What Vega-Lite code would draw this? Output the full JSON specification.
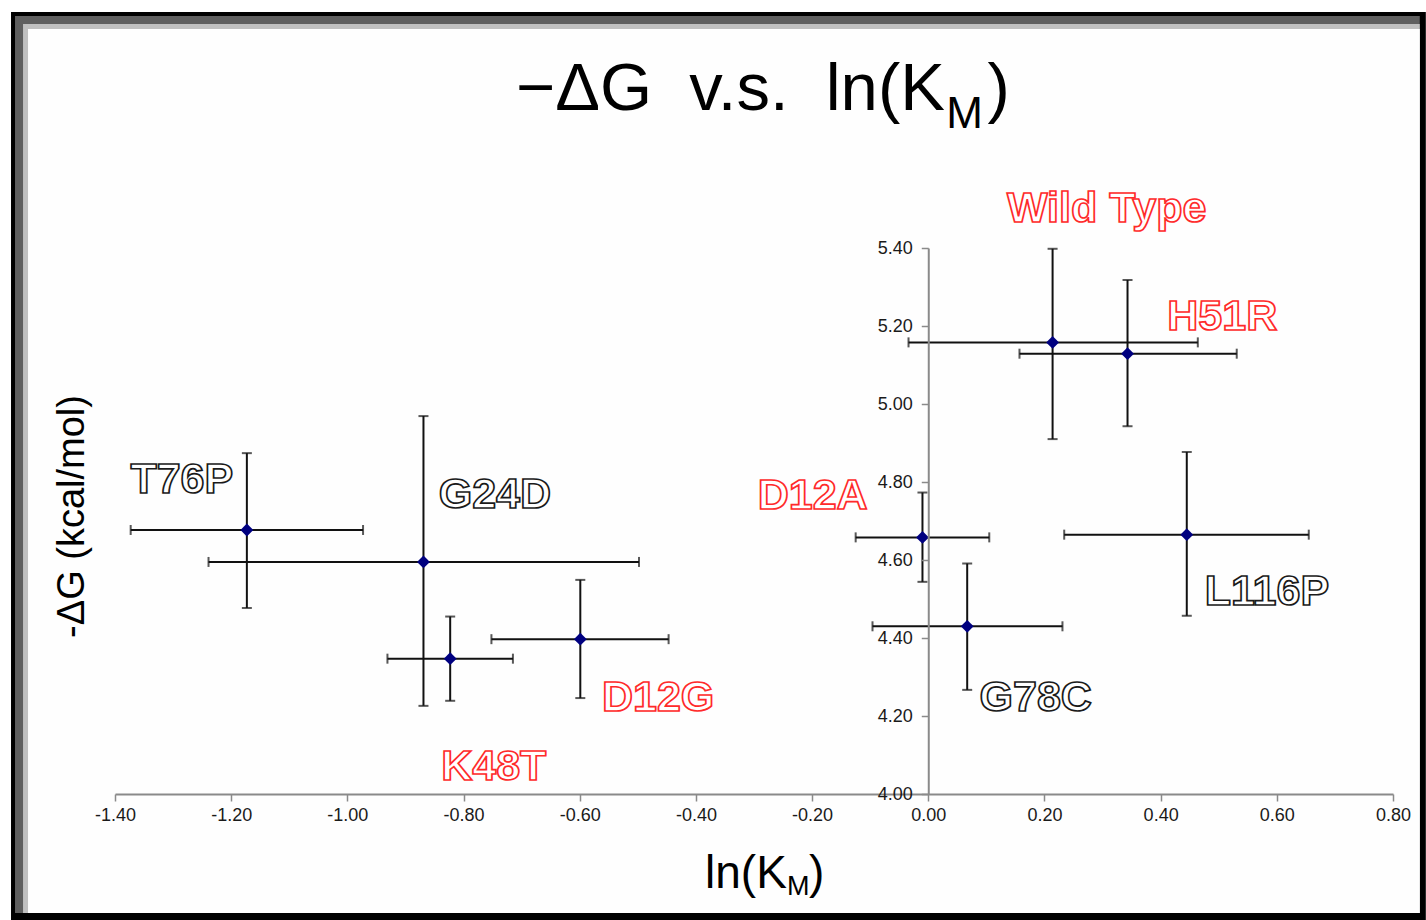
{
  "$schema": "https://vega.github.io/schema/vega-lite/v6.json",
  "width": 1278,
  "height": 546,
  "autosize": {"type": "none"},
  "padding": {"left": 115, "top": 248, "right": 33, "bottom": 126},
  "background": "white",
  "datasets": {
    "mutants": [
      {"mutant": "Wild Type", "km": 0.214, "km_lo": -0.034, "km_hi": 0.464, "dg": 5.158, "dg_lo": 4.91, "dg_hi": 5.398, "lab_x": 0.307, "lab_y": 5.467, "red": "yes"},
      {"mutant": "H51R", "km": 0.343, "km_lo": 0.157, "km_hi": 0.531, "dg": 5.129, "dg_lo": 4.943, "dg_hi": 5.318, "lab_x": 0.506, "lab_y": 5.189, "red": "yes"},
      {"mutant": "D12A", "km": -0.01, "km_lo": -0.125, "km_hi": 0.105, "dg": 4.658, "dg_lo": 4.544, "dg_hi": 4.773, "lab_x": -0.199, "lab_y": 4.731, "red": "yes"},
      {"mutant": "G78C", "km": 0.067, "km_lo": -0.096, "km_hi": 0.231, "dg": 4.43, "dg_lo": 4.267, "dg_hi": 4.591, "lab_x": 0.185, "lab_y": 4.214, "red": "no"},
      {"mutant": "L116P", "km": 0.445, "km_lo": 0.234, "km_hi": 0.655, "dg": 4.665, "dg_lo": 4.457, "dg_hi": 4.877, "lab_x": 0.583, "lab_y": 4.485, "red": "no"},
      {"mutant": "T76P", "km": -1.173, "km_lo": -1.373, "km_hi": -0.973, "dg": 4.677, "dg_lo": 4.477, "dg_hi": 4.874, "lab_x": -1.285, "lab_y": 4.772, "red": "no"},
      {"mutant": "G24D", "km": -0.869, "km_lo": -1.239, "km_hi": -0.498, "dg": 4.595, "dg_lo": 4.226, "dg_hi": 4.969, "lab_x": -0.746, "lab_y": 4.733, "red": "no"},
      {"mutant": "K48T", "km": -0.823, "km_lo": -0.931, "km_hi": -0.715, "dg": 4.347, "dg_lo": 4.239, "dg_hi": 4.455, "lab_x": -0.748, "lab_y": 4.037, "red": "yes"},
      {"mutant": "D12G", "km": -0.599, "km_lo": -0.752, "km_hi": -0.447, "dg": 4.397, "dg_lo": 4.246, "dg_hi": 4.549, "lab_x": -0.465, "lab_y": 4.212, "red": "yes"}
    ]
  },
  "layer": [
    {
      "data": {"values": [{}]},
      "mark": {"type": "rect", "fill": "#000000"},
      "encoding": {
        "x": {"datum": -1.579, "type": "quantitative", "scale": {"domain": [-1.4, 0.8], "nice": false, "zero": false}},
        "x2": {"datum": 0.8565},
        "y": {"datum": 6.0051, "type": "quantitative", "scale": {"domain": [4.0, 5.4], "nice": false, "zero": false}},
        "y2": {"datum": 3.6769}
      }
    },
    {
      "data": {"values": [{}]},
      "mark": {"type": "rect", "fill": "#5f5f5f"},
      "encoding": {
        "x": {"datum": -1.5721, "type": "quantitative"},
        "x2": {"datum": 0.8461},
        "y": {"datum": 5.9949, "type": "quantitative"},
        "y2": {"datum": 3.6949}
      }
    },
    {
      "data": {"values": [{}]},
      "mark": {"type": "rect", "fill": "#c0c0c0"},
      "encoding": {
        "x": {"datum": -1.5583, "type": "quantitative"},
        "x2": {"datum": 0.8461},
        "y": {"datum": 5.9744, "type": "quantitative"},
        "y2": {"datum": 3.6949}
      }
    },
    {
      "data": {"values": [{}]},
      "mark": {"type": "rect", "fill": "#fefefe"},
      "encoding": {
        "x": {"datum": -1.5497, "type": "quantitative"},
        "x2": {"datum": 0.8461},
        "y": {"datum": 5.9615, "type": "quantitative"},
        "y2": {"datum": 3.6949}
      }
    },
    {
      "data": {"name": "mutants"},
      "mark": {"type": "errorbar", "thickness": 2, "color": "#111111", "ticks": {"size": 10, "thickness": 2, "color": "#111111"}},
      "encoding": {
        "x": {"field": "km_lo", "type": "quantitative", "title": null},
        "x2": {"field": "km_hi"},
        "y": {"field": "dg", "type": "quantitative", "title": "-\u0394G (kcal/mol)"}
      }
    },
    {
      "data": {"name": "mutants"},
      "mark": {"type": "errorbar", "thickness": 2, "color": "#111111", "ticks": {"size": 10, "thickness": 2, "color": "#111111"}},
      "encoding": {
        "y": {"field": "dg_lo", "type": "quantitative", "title": "-\u0394G (kcal/mol)"},
        "y2": {"field": "dg_hi"},
        "x": {"field": "km", "type": "quantitative", "title": null}
      }
    },
    {
      "data": {"name": "mutants"},
      "mark": {"type": "point", "shape": "diamond", "filled": true, "size": 165, "color": "#000080", "opacity": 1},
      "encoding": {
        "x": {
          "field": "km", "type": "quantitative",
          "scale": {"domain": [-1.4, 0.8], "nice": false, "zero": false},
          "axis": {
            "title": null,
            "values": [-1.4, -1.2, -1.0, -0.8, -0.6, -0.4, -0.2, 0.0, 0.2, 0.4, 0.6, 0.8],
            "labelExpr": "replace(format(datum.value, '.2f'), '\u2212', '-')",
            "grid": false,
            "zindex": 1,
            "domainColor": "#8a8a8a", "domainWidth": 2,
            "tickColor": "#8a8a8a", "tickWidth": 1.5, "tickSize": 7,
            "labelFont": "Liberation Sans", "labelFontSize": 18, "labelColor": "#1a1a1a",
            "labelPadding": 5, "labelFlush": false, "labelOverlap": false
          }
        },
        "y": {
          "field": "dg", "type": "quantitative",
          "scale": {"domain": [4.0, 5.4], "nice": false, "zero": false},
          "axis": {
            "title": "-\u0394G (kcal/mol)",
            "values": [4.0, 4.2, 4.4, 4.6, 4.8, 5.0, 5.2, 5.4],
            "labelExpr": "replace(format(datum.value, '.2f'), '\u2212', '-')",
            "grid": false,
            "zindex": 1,
            "offset": -813.27,
            "domainColor": "#8a8a8a", "domainWidth": 2,
            "tickColor": "#8a8a8a", "tickWidth": 1.5, "tickSize": 7,
            "labelFont": "Liberation Sans", "labelFontSize": 18, "labelColor": "#1a1a1a",
            "labelPadding": 9, "labelFlush": false, "labelOverlap": false,
            "titleFont": "Liberation Sans",
            "titleFontSize": 38, "titleFontWeight": "normal", "titleColor": "#000000",
            "titleAngle": 270, "titleAlign": "center", "titleBaseline": "alphabetic",
            "titleX": -845, "titleY": 268
          }
        }
      }
    },
    {
      "data": {"name": "mutants"},
      "mark": {"type": "text", "fill": "#ffffff", "strokeWidth": 1.7, "font": "Liberation Sans", "fontWeight": "bold", "fontSize": 43, "align": "center", "baseline": "alphabetic"},
      "encoding": {
        "x": {"field": "lab_x", "type": "quantitative", "title": null},
        "y": {"field": "lab_y", "type": "quantitative", "title": "-\u0394G (kcal/mol)"},
        "text": {"field": "mutant"},
        "stroke": {"field": "red", "type": "nominal", "scale": {"domain": ["yes", "no"], "range": ["#ff2a2a", "#1a1a1a"]}, "legend": null}
      }
    },
    {
      "data": {"values": [{}]},
      "mark": {"type": "text", "text": "\u2212\u0394G\u00a0\u00a0v.s.\u00a0\u00a0ln(K", "font": "Liberation Sans", "fontSize": 67, "align": "right", "baseline": "alphabetic", "color": "#000000"},
      "encoding": {
        "x": {"datum": 0.0286, "type": "quantitative"},
        "y": {"datum": 5.7538, "type": "quantitative"}
      }
    },
    {
      "data": {"values": [{}]},
      "mark": {"type": "text", "text": "M", "font": "Liberation Sans", "fontSize": 44, "align": "left", "baseline": "alphabetic", "color": "#000000"},
      "encoding": {
        "x": {"datum": 0.031, "type": "quantitative"},
        "y": {"datum": 5.7077, "type": "quantitative"}
      }
    },
    {
      "data": {"values": [{}]},
      "mark": {"type": "text", "text": ")", "font": "Liberation Sans", "fontSize": 67, "align": "left", "baseline": "alphabetic", "color": "#000000"},
      "encoding": {
        "x": {"datum": 0.102, "type": "quantitative"},
        "y": {"datum": 5.7538, "type": "quantitative"}
      }
    },
    {
      "data": {"values": [{}]},
      "mark": {"type": "text", "text": "ln(K", "font": "Liberation Sans", "fontSize": 46, "align": "right", "baseline": "alphabetic", "color": "#000000"},
      "encoding": {
        "x": {"datum": -0.2434, "type": "quantitative"},
        "y": {"datum": 3.759, "type": "quantitative"}
      }
    },
    {
      "data": {"values": [{}]},
      "mark": {"type": "text", "text": "M", "font": "Liberation Sans", "fontSize": 27, "align": "left", "baseline": "alphabetic", "color": "#000000"},
      "encoding": {
        "x": {"datum": -0.2434, "type": "quantitative"},
        "y": {"datum": 3.741, "type": "quantitative"}
      }
    },
    {
      "data": {"values": [{}]},
      "mark": {"type": "text", "text": ")", "font": "Liberation Sans", "fontSize": 46, "align": "left", "baseline": "alphabetic", "color": "#000000"},
      "encoding": {
        "x": {"datum": -0.2055, "type": "quantitative"},
        "y": {"datum": 3.759, "type": "quantitative"}
      }
    }
  ],
  "config": {
    "view": {"stroke": null},
    "axis": {"zindex": 1}
  }
}
